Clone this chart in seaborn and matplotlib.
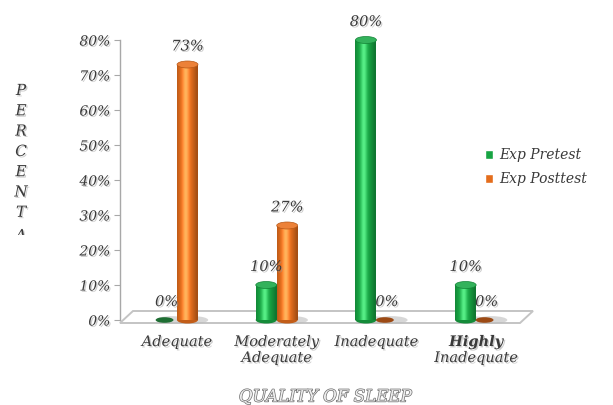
import numpy as np
import pandas as pd
import matplotlib
matplotlib.use("Agg")
import matplotlib.pyplot as plt
import matplotlib.patheffects as pe
from matplotlib.patches import Ellipse, Polygon
from matplotlib.colors import to_rgb
from matplotlib.transforms import Bbox, TransformedBbox
import seaborn as sns

# ---- data -------------------------------------------------------------
categories = ["Adequate", "Moderately\nAdequate", "Inadequate", "Highly\nInadequate"]
groups = ["Exp Pretest", "Exp Posttest"]
pretest = [0, 10, 80, 10]
posttest = [73, 27, 0, 0]
y_ticks = [0, 10, 20, 30, 40, 50, 60, 70, 80]
bold_words = {"Highly"}

colors = ["#17a443", "#e46d1c"]
base_colors = ["#1e6e33", "#9c4a14"]

df = pd.DataFrame({
    "category": categories * 2,
    "group": [groups[0]] * len(categories) + [groups[1]] * len(categories),
    "value": pretest + posttest,
})

# ---- figure -------------------------------------------------------------
sns.set_theme(style="white")
plt.rcParams["font.family"] = ["DejaVu Serif"]
plt.rcParams["font.style"] = "italic"

W, H = 613, 405
fig = plt.figure(figsize=(W / 100, H / 100), dpi=100)
ax = fig.add_axes([120 / W, 85 / H, 400 / W, 280 / H])
ax.patch.set_alpha(0)

sns.barplot(data=df, x="category", y="value", hue="group", hue_order=groups,
            palette=colors, saturation=1, width=0.42, ax=ax, legend=True)

ax.set_xlim(-0.572, 3.44)
ax.set_ylim(0, 80)

txt_color = "#3a3a3a"
shadow = [pe.withSimplePatchShadow(offset=(1, -1), shadow_rgbFace="#999999", alpha=0.5)]

# cylinder shading for each bar
t = np.linspace(0, 1, 64)
s = np.clip(np.cos((t - 0.42) * np.pi * 0.95), 0, 1)
px_per_unit = 280 / 80
cap_h = 7 / px_per_unit

for ci, cont in enumerate(ax.containers):
    base = np.array(to_rgb(colors[ci]))
    grad = base[None, :] * (0.72 + 0.35 * s[:, None]) + 0.25 * (s[:, None] ** 10)
    grad = np.clip(grad, 0, 1)[None, :, :]
    for bar, v in zip(cont.patches, cont.datavalues):
        x0, w = bar.get_x(), bar.get_width()
        cx = x0 + w / 2
        bar.set_edgecolor("none")
        # soft floor shadow
        ax.add_patch(Ellipse((cx + 0.05, 0), w * 1.5, cap_h * 1.1, facecolor="#bdbdbd",
                             edgecolor="none", alpha=0.6, zorder=1.5, clip_on=False))
        if v > 0:
            im = ax.imshow(grad, extent=[x0, x0 + w, 0, v], aspect="auto",
                           zorder=2.1, interpolation="bilinear")
            im.set_clip_path(bar)
            # rounded base
            ax.add_patch(Ellipse((cx, 0), w, cap_h, facecolor=base * 0.85,
                                 edgecolor="none", zorder=2.0, clip_on=False))
            # top cap
            cap = np.clip(base * 0.9 + 0.12, 0, 1)
            ax.add_patch(Ellipse((cx, v), w, cap_h, facecolor=cap,
                                 edgecolor=base * 0.8, lw=0.5, zorder=2.3, clip_on=False))
        else:
            ax.add_patch(Ellipse((cx - 0.02, 0), w * 0.85, cap_h * 0.8,
                                 facecolor=base_colors[ci], edgecolor="none",
                                 zorder=2.2, clip_on=False))
        ax.annotate(f"{v:.0f}%", (cx, v), xytext=(0, 13), textcoords="offset points",
                    ha="center", va="center", fontsize=10.5, color=txt_color,
                    path_effects=shadow, zorder=3, annotation_clip=False)

ax.set_xlim(-0.572, 3.44)
ax.set_ylim(0, 80)

# floor slab
floor = Polygon([(0, -3 / 280), (1, -3 / 280), (413 / 400, 9 / 280), (13 / 400, 9 / 280)],
                closed=True, transform=ax.transAxes, facecolor="white",
                edgecolor="#c4c4c4", lw=1.4, zorder=0.5, clip_on=False)
ax.add_patch(floor)

# axes styling
for side in ["top", "right", "bottom"]:
    ax.spines[side].set_visible(False)
ax.spines["left"].set_color("#a8a8a8")
ax.spines["left"].set_linewidth(1.0)
ax.set_yticks(y_ticks)
ax.set_yticklabels([f"{v}%" for v in y_ticks])
ax.tick_params(axis="y", length=4, width=0.8, color="#a8a8a8", pad=3,
               labelsize=10, labelcolor=txt_color, left=True)
for lab in ax.get_yticklabels():
    lab.set_path_effects(shadow)
ax.tick_params(axis="x", length=0, labelbottom=False)
ax.set_xlabel("")
ax.set_ylabel("")

# category labels
for i, cat in enumerate(categories):
    for j, line in enumerate(cat.split("\n")):
        ax.text(i, (320 - (342 + 16 * j)) / 280, line, transform=ax.get_xaxis_transform(),
                ha="center", va="center", fontsize=10.5, color=txt_color,
                fontweight="bold" if line in bold_words else "normal",
                path_effects=shadow)

# axis titles
fig.text(325 / W, 1 - 397 / H, "QUALITY OF SLEEP", ha="center", va="center",
         fontsize=12, color="#ededed",
         path_effects=[pe.Stroke(linewidth=1.0, foreground="#6e6e6e"), pe.Normal()])

# vertical stacked title, cut off at the bottom edge of its box
clip = TransformedBbox(Bbox([[0, 1 - 235 / H], [1, 1]]), fig.transFigure)
for k, ch in enumerate("PERCENTA"):
    tx = fig.text(21 / W, 1 - (91 + 20.3 * k + (3 if ch == "A" and k == 7 else 0)) / H, ch,
                  ha="center", va="center", fontsize=11, color=txt_color,
                  path_effects=shadow)
    tx.set_clip_box(clip)
    tx.set_clip_on(True)

# legend
handles, labels = ax.get_legend_handles_labels()
ax.legend(handles, labels, loc="upper left", bbox_to_anchor=(485 / W, 1 - 148 / H),
          bbox_transform=fig.transFigure, frameon=False, fontsize=10,
          handlelength=0.6, handleheight=0.6, handletextpad=0.4,
          labelspacing=0.75, borderpad=0, borderaxespad=0, labelcolor=txt_color)

fig.savefig("out.png", dpi=100, facecolor="white")
